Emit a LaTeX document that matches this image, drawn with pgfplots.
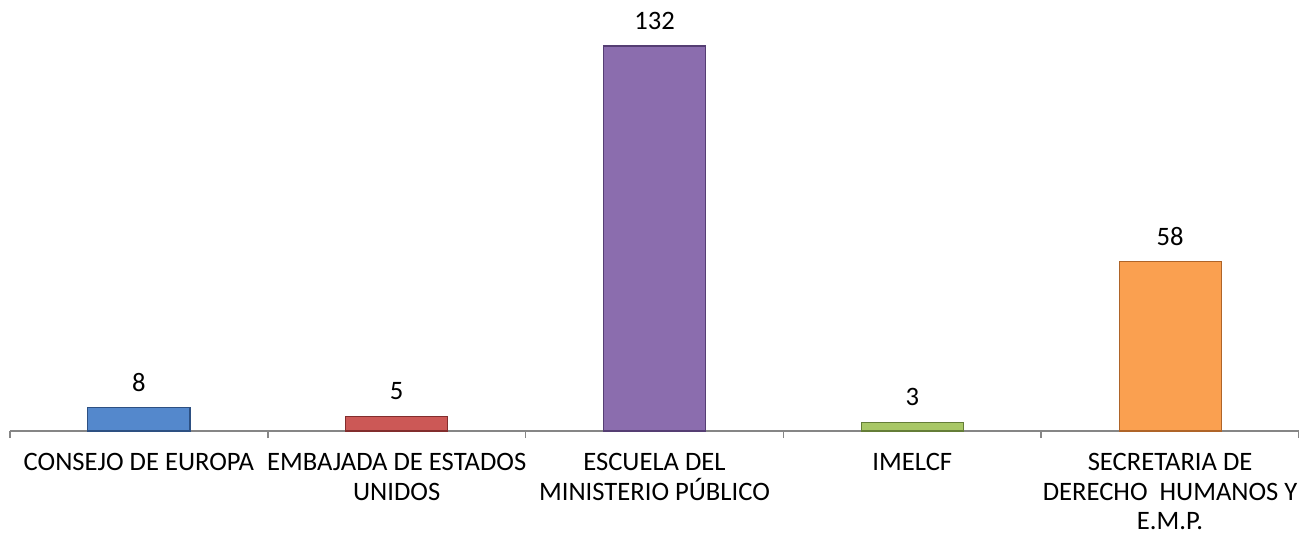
\documentclass[border=0pt]{standalone}
\usepackage{fontspec}
\setmainfont{Carlito}
\usepackage{pgfplots}
\pgfplotsset{compat=1.18}
\definecolor{cblue}{RGB}{84,136,204}
\definecolor{cblueD}{RGB}{45,80,130}
\definecolor{cred}{RGB}{204,88,86}
\definecolor{credD}{RGB}{130,45,45}
\definecolor{cpurp}{RGB}{139,109,174}
\definecolor{cpurpD}{RGB}{85,62,115}
\definecolor{cgreen}{RGB}{168,199,102}
\definecolor{cgreenD}{RGB}{100,125,55}
\definecolor{corange}{RGB}{250,160,80}
\definecolor{corangeD}{RGB}{175,100,40}
\definecolor{axgray}{RGB}{134,134,134}
\begin{document}
\begin{tikzpicture}
\begin{axis}[
  scale only axis,
  width=644.5pt, height=215.5pt,
  xmin=-0.5, xmax=4.5, ymin=0, ymax=147.8,
  axis x line*=bottom,
  axis y line=none,
  x axis line style={draw=axgray, line width=0.8pt},
  xtick={0,1,2,3,4},
  xticklabels={{CONSEJO DE EUROPA},{EMBAJADA DE ESTADOS\\UNIDOS},{ESCUELA DEL\\MINISTERIO PÚBLICO},{IMELCF},{SECRETARIA DE\\DERECHO\ \ HUMANOS Y\\E.M.P.}},
  major tick length=0pt,
  minor xtick={-0.5,0.5,1.5,2.5,3.5,4.5},
  minor tick length=3.5pt,
  tick align=outside,
  every minor tick/.style={draw=axgray, line width=0.8pt},
  xticklabel style={font=\fontsize{13.3}{14.8}\selectfont, align=center, anchor=north, yshift=-10pt, inner sep=1pt},
  /pgf/number format/assume math mode=true,
  ybar, bar width=51pt, bar shift=0pt,
  nodes near coords,
  every node near coord/.append style={font=\fontsize{13.3}{15}\selectfont, text=black, yshift=4.5pt},
  clip=false,
]
\addplot[fill=cblue, draw=cblueD, line width=0.6pt] coordinates {(0,8)};
\addplot[fill=cred, draw=credD, line width=0.6pt] coordinates {(1,5)};
\addplot[fill=cpurp, draw=cpurpD, line width=0.6pt] coordinates {(2,132)};
\addplot[fill=cgreen, draw=cgreenD, line width=0.6pt] coordinates {(3,3)};
\addplot[fill=corange, draw=corangeD, line width=0.6pt] coordinates {(4,58)};
\coordinate (bl) at (rel axis cs:0,0);
\coordinate (tr) at (rel axis cs:1,1);
\end{axis}
\pgfresetboundingbox
\path (bl) ++(-5pt,-52pt) rectangle (tr);
\end{tikzpicture}
\end{document}
